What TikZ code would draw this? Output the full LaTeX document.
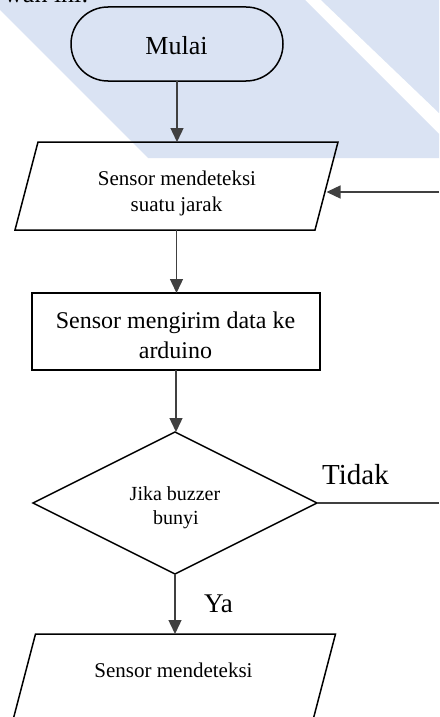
\documentclass[tikz,border=0pt]{standalone}
\usepackage{fontspec}
\setmainfont{Liberation Serif}
\usetikzlibrary{shapes.geometric,arrows.meta}
\definecolor{wm}{RGB}{218,227,243}
\definecolor{ln}{RGB}{64,64,64}
\begin{document}
\begin{tikzpicture}[x=1pt,y=-1pt,
  bd/.style={draw=black,line width=1.5pt,inner sep=0pt,outer sep=0pt},
  term/.style={bd,rectangle,rounded corners=37pt,minimum width=212pt,minimum height=74pt},
  parabox/.style={rectangle,inner sep=0pt,outer sep=0pt,minimum width=300pt,minimum height=88pt},
  proc/.style={bd,rectangle,line width=2pt,minimum width=288pt,minimum height=77pt},
  dec/.style={bd,diamond,minimum width=284pt,minimum height=142pt},
  conn/.style={draw=ln,line width=1.4pt},
  arr/.style={conn,-{Triangle[length=14pt,width=13pt]}},
  txt/.style={inner sep=0pt,anchor=base,font=\fontsize{#1pt}{#1pt}\selectfont}
]
\useasboundingbox (0,0) rectangle (439,717);
\clip (0,0) rectangle (439,717);
% watermark
\fill[wm] (0,0) -- (305,0) -- (439,134) -- (439,158) -- (148,158) -- (0,10) -- cycle;
\fill[wm] (321,0) -- (439,0) -- (439,113) -- cycle;
\node[txt=26,anchor=base west] (top) at (4,2.5) {wan ini:};
% shapes
\node[term] (t) at (177,44) {};
\node[parabox] (p1) at (176.5,186) {};
\draw[bd,line join=miter] ([xshift=11.5pt]p1.north west) -- ([xshift=11.5pt]p1.north east)
   -- ([xshift=-11.5pt]p1.south east) -- ([xshift=-11.5pt]p1.south west) -- cycle;
\node[proc] (r) at (176,331.5) {};
\node[dec] (d) at (175,503) {};
\node[parabox] (p2) at (174,678) {};
\draw[bd,line join=miter] ([xshift=11.5pt]p2.north west) -- ([xshift=11.5pt]p2.north east)
   -- ([xshift=-11.5pt]p2.south east) -- ([xshift=-11.5pt]p2.south west) -- cycle;
% texts
\node[txt=26] (tt) at (176.5,55) {Mulai};
\node[txt=21] (p1a) at (177,185) {Sensor mendeteksi};
\node[txt=21] (p1b) at (176.5,211.5) {suatu jarak};
\node[txt=24] (ra) at (175.5,328) {Sensor mengirim data ke};
\node[txt=24] (rb) at (175.5,358) {arduino};
\node[txt=20] (da) at (175,500.5) {Jika buzzer};
\node[txt=20] (db) at (176,524.5) {bunyi};
\node[txt=21] (p2a) at (173.5,677) {Sensor mendeteksi};
\node[txt=29,anchor=base west] (tidak) at (322,484) {Tidak};
\node[txt=27,anchor=base west] (ya) at (204,612) {Ya};
% connectors
\coordinate (backin) at (439,192);
\coordinate (tidakout) at (439,503);
\draw[arr] (t.south) -- (t.south |- p1.north);
\draw[arr] (p1.south) -- (p1.south |- r.north);
\draw[arr] (r.south) -- (r.south |- d.north);
\draw[arr] (d.south) -- (d.south |- p2.north);
\draw[arr] (backin) -- (backin -| p1.east);
\draw[conn] (d.east) -- (tidakout);
\end{tikzpicture}
\end{document}
